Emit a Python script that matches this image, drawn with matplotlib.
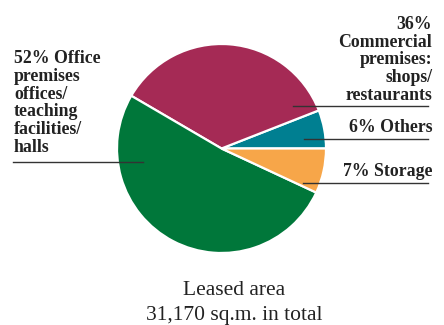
import matplotlib.pyplot as plt

categories = ['Others', 'Commercial premises', 'Office premises', 'Storage']
shares = [6, 36, 52, 7]
colors = ['#007F91', '#A52A55', '#00773A', '#F7A649']

label_texts = {
    'Office premises': '52% Office\npremises\noffices/\nteaching\nfacilities/\nhalls',
    'Commercial premises': '36%\nCommercial\npremises:\nshops/\nrestaurants',
    'Others': '6% Others',
    'Storage': '7% Storage',
}

W, H = 444, 325
fig = plt.figure(figsize=(W / 100, H / 100), dpi=100)
ax = fig.add_axes([0, 0, 1, 1])

ax.pie(shares, colors=colors, startangle=0, counterclock=True,
       center=(221.5, H - 148.5), radius=104.5,
       wedgeprops=dict(edgecolor='white', linewidth=1.6))
ax.set_xlim(0, W)
ax.set_ylim(0, H)
ax.set_aspect('equal')
ax.axis('off')

font = dict(family='Liberation Serif', fontsize=12.8, fontweight='bold', color='#222222')
line_kw = dict(color='#333333', linewidth=1.0)

# left label (baseline of the last line)
ax.text(14, H - 152, label_texts['Office premises'], ha='left', va='baseline',
        linespacing=1.06, **font)
ax.plot([13, 143], [H - 162, H - 162], **line_kw)

# right labels
ax.text(432, H - 100, label_texts['Commercial premises'], ha='right', va='baseline',
        linespacing=1.06, multialignment='right', **font)
ax.plot([293, 428], [H - 105.5, H - 105.5], **line_kw)

ax.text(432, H - 131.5, label_texts['Others'], ha='right', va='baseline', **font)
ax.plot([304, 428], [H - 138.5, H - 138.5], **line_kw)

ax.text(432, H - 175.5, label_texts['Storage'], ha='right', va='baseline', **font)
ax.plot([303, 428], [H - 182.5, H - 182.5], **line_kw)

# total caption
ax.text(234, H - 295, 'Leased area', ha='center', va='baseline',
        family='Liberation Serif', fontsize=15.5, color='#222222')
ax.text(234, H - 320, '31,170 sq.m. in total', ha='center', va='baseline',
        family='Liberation Serif', fontsize=15.5, color='#222222')

fig.savefig('out.png', dpi=100)
